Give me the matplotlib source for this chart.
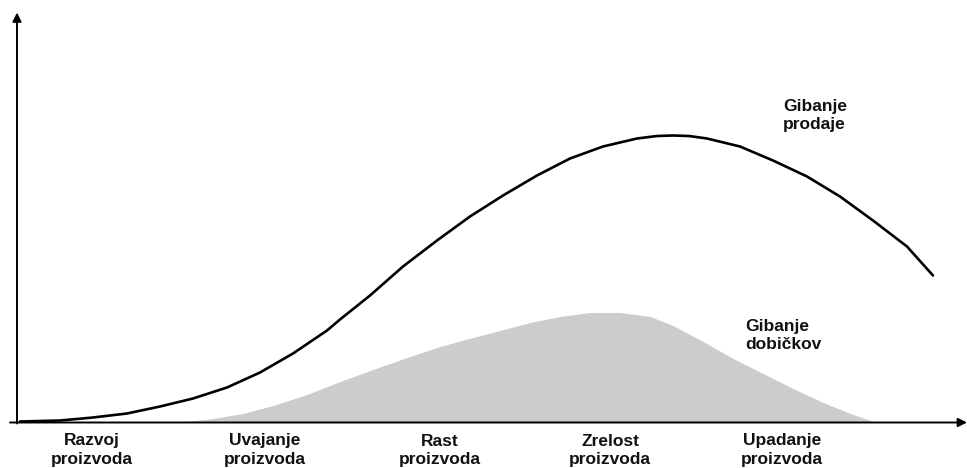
"""Product life cycle: sales and profit curves."""
import matplotlib
matplotlib.use('Agg')
import matplotlib.pyplot as plt

plt.rcParams['font.family'] = ['Liberation Sans', 'DejaVu Sans']

# time axis (arbitrary units) and curve values
sales_t = [3, 43, 76, 110, 143, 176, 210, 243, 276, 310, 323, 353, 386, 420,
           453, 486, 520, 553, 586, 620, 640, 656, 672, 690, 723, 756, 790,
           823, 856, 890, 916]
sales_v = [1, 2, 5, 9, 16, 24, 35, 50, 69, 92, 103, 127, 156, 182,
           206, 227, 247, 264, 276, 284, 286.5, 287, 286.5, 284, 276, 262,
           246, 226, 202, 176, 147]

profit_t = [153, 190, 226, 256, 290, 323, 356, 390, 423, 456, 483, 513,
            543, 573, 603, 633, 656, 686, 716, 746, 776, 806, 836, 860]
profit_v = [0, 3, 9, 17, 28, 41, 53, 65, 76, 85, 92, 100,
            106, 110, 110, 106, 97, 81, 64, 49, 34, 20, 8, 0]

stages = ['Razvoj\nproizvoda', 'Uvajanje\nproizvoda', 'Rast\nproizvoda',
          'Zrelost\nproizvoda', 'Upadanje\nproizvoda']
stage_t = [75, 248, 423, 593, 765]

W, H = 967, 468
fig = plt.figure(figsize=(W / 100, H / 100), dpi=100)
fig.patch.set_facecolor('white')
# origin of the axes sits at pixel (17, 422.5)
ax = fig.add_axes([17 / W, (H - 422.5) / H, 950 / W, 410 / H])
ax.set_xlim(0, 950)
ax.set_ylim(0, 410)
ax.axis('off')

ax.fill_between(profit_t, profit_v, 0, color='#cccccc', lw=0, zorder=1)
ax.plot(sales_t, sales_v, color='black', lw=1.9, solid_joinstyle='round',
        solid_capstyle='round', zorder=3)

# axes with arrow heads
arrow = dict(arrowstyle='-|>', color='black', lw=1.4, mutation_scale=13,
             shrinkA=0, shrinkB=0)
ax.annotate('', xy=(0, 410), xytext=(0, -1), arrowprops=arrow,
            annotation_clip=False, zorder=4)
ax.annotate('', xy=(950, 0), xytext=(-7, 0), arrowprops=arrow,
            annotation_clip=False, zorder=4)

txt = dict(fontsize=12.5, fontweight='bold', linespacing=1.3, color='#111111')
for t, lab in zip(stage_t, stages):
    ax.text(t, -11, lab, ha='center', va='top', clip_on=False, **txt)

ax.text(766, 324, 'Gibanje\nprodaje', ha='left', va='top', **txt)
ax.text(728, 104, 'Gibanje\ndobičkov', ha='left', va='top', **txt)

fig.savefig('out.png', dpi=100, facecolor='white')
plt.close(fig)
